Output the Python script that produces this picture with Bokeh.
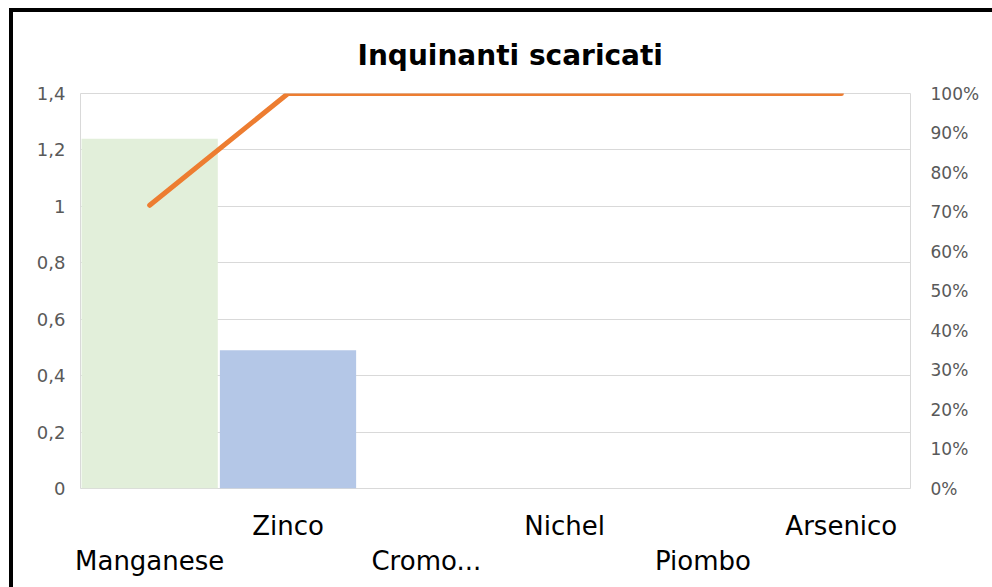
from bokeh.plotting import figure
from bokeh.models import (FactorRange, Range1d, LinearAxis, CategoricalAxis,
                          FixedTicker, NumeralTickFormatter, ColumnDataSource,
                          CustomJSTickFormatter)
from bokeh.embed import file_html
from bokeh.resources import INLINE

# ---- data ----
categories = ["Manganese", "Zinco", "Cromo...", "Nichel", "Piombo", "Arsenico"]
values = [1.24, 0.49, 0.0, 0.0, 0.0, 0.0]
cum_pct = [0.717, 1.0, 1.0, 1.0, 1.0, 1.0]
bar_colors = ["#E2EFDA", "#B4C7E7", "#F8CBAD", "#DBDBDB", "#FFE699", "#BDD7EE"]
left_ticks = [0, 0.2, 0.4, 0.6, 0.8, 1.0, 1.2, 1.4]
left_tick_labels = ["0", "0,2", "0,4", "0,6", "0,8", "1", "1,2", "1,4"]
right_ticks = [0, 0.1, 0.2, 0.3, 0.4, 0.5, 0.6, 0.7, 0.8, 0.9, 1.0]
row1 = ["Zinco", "Nichel", "Arsenico"]
row2 = ["Manganese", "Cromo...", "Piombo"]

FONT = "DejaVu Sans"
GRAY = "#595959"
GRID = "#D9D9D9"

p = figure(x_range=FactorRange(*categories), y_range=Range1d(0, 1.4),
           width=983, height=579, output_backend="svg", toolbar_location=None,
           min_border_left=67, min_border_right=86, min_border_top=81,
           min_border_bottom=103)
p.styles = {"border-left": "4px solid black", "border-top": "4px solid black",
            "margin-left": "9px", "margin-top": "8px"}

p.title.text = "Inquinanti scaricati"
p.title.align = "left"
p.title.text_font = FONT
p.title.text_font_style = "bold"
p.title.text_font_size = "28px"
p.title.text_color = "#000000"
p.title.offset = 277
p.title.standoff = 44

p.outline_line_color = GRID
p.xgrid.visible = False
p.ygrid.ticker = FixedTicker(ticks=left_ticks)
p.ygrid.grid_line_color = GRID

src = ColumnDataSource(dict(cat=categories, val=values, pct=cum_pct, color=bar_colors))
p.vbar(x="cat", top="val", width=0.985, fill_color="color", line_color=None, source=src)

p.extra_y_ranges = {"pct": Range1d(0, 1)}
p.line(x="cat", y="pct", source=src, y_range_name="pct", line_color="#ED7D31",
       line_width=5, line_cap="round")

def style_axis(ax, size, color, standoff):
    ax.axis_line_color = None
    ax.major_tick_line_color = None
    ax.minor_tick_line_color = None
    ax.major_tick_out = 0
    ax.major_tick_in = 0
    ax.major_label_text_font = FONT
    ax.major_label_text_font_size = size
    ax.major_label_text_color = color
    ax.major_label_standoff = standoff

ya = p.yaxis[0]
ya.ticker = FixedTicker(ticks=left_ticks)
ya.major_label_overrides = {t: l for t, l in zip(left_ticks, left_tick_labels)}
style_axis(ya, "18px", GRAY, 15)

ra = LinearAxis(y_range_name="pct", ticker=FixedTicker(ticks=right_ticks),
                formatter=NumeralTickFormatter(format="0%"))
style_axis(ra, "17px", GRAY, 20)
ra.major_label_text_align = "left"
p.add_layout(ra, "right")

row_code = "return keep.includes(tick) ? tick : '';"

xa = p.xaxis[0]
xa.formatter = CustomJSTickFormatter(args=dict(keep=row1), code=row_code)
style_axis(xa, "26px", "#000000", 22)

xb = CategoricalAxis(formatter=CustomJSTickFormatter(args=dict(keep=row2), code=row_code))
style_axis(xb, "26px", "#000000", 2)
p.add_layout(xb, "below")

open("out.html", "w").write(file_html(p, INLINE))
